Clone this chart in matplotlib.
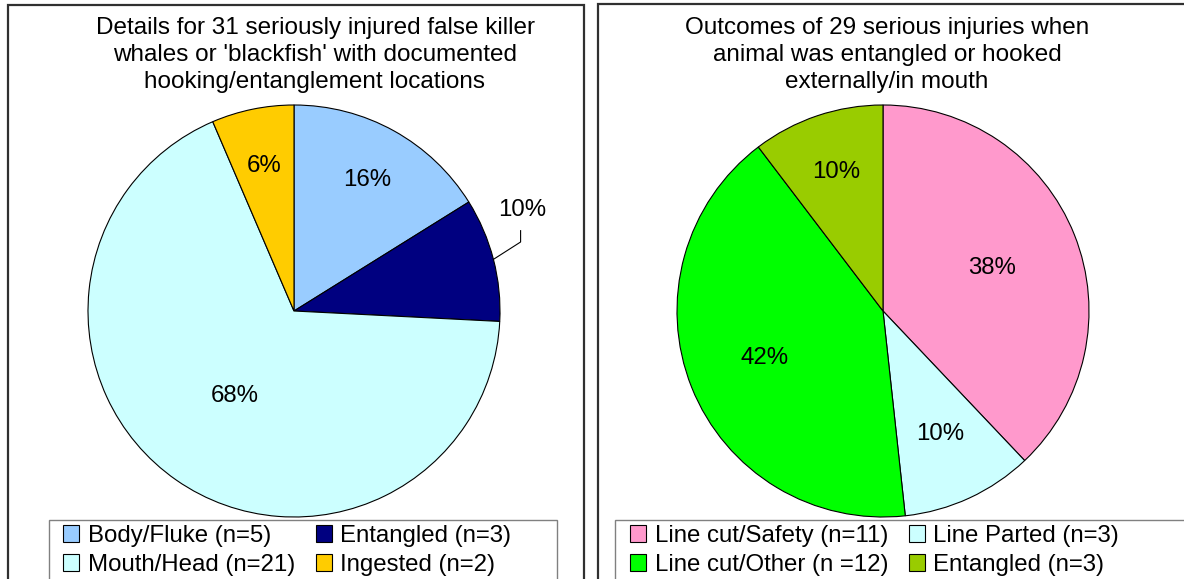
import numpy as np
import matplotlib
matplotlib.use("Agg")
from matplotlib import pyplot as plt
from matplotlib.patches import Rectangle, Patch

plt.rcParams['font.family'] = ['Liberation Sans', 'DejaVu Sans']

# data
left_title = "Details for 31 seriously injured false killer\nwhales or 'blackfish' with documented\nhooking/entanglement locations"
left_labels = ["Body/Fluke (n=5)", "Entangled (n=3)", "Mouth/Head (n=21)", "Ingested (n=2)"]
left_values = [5, 3, 21, 2]
left_colors = ["#99CCFF", "#000080", "#CCFFFF", "#FFCC00"]

right_title = "Outcomes of 29 serious injuries when\nanimal was entangled or hooked\nexternally/in mouth"
right_labels = ["Line cut/Safety (n=11)", "Line Parted (n=3)", "Line cut/Other (n =12)", "Entangled (n=3)"]
right_values = [11, 3, 12, 3]
right_colors = ["#FF99CC", "#CCFFFF", "#00FF00", "#99CC00"]

# label distances from centre (fraction of radius), as Excel placed them
left_dist = [0.73, None, 0.50, 0.72]
right_dist = [0.57, 0.66, 0.62, 0.71]

W, H = 1184, 579
fig = plt.figure(figsize=(W / 100, H / 100), dpi=100)

def px_rect(x0, y0, x1, y1, **kw):
    # pixel box (top-left origin) -> figure rectangle
    r = Rectangle((x0 / W, 1 - y1 / H), (x1 - x0) / W, (y1 - y0) / H,
                  transform=fig.transFigure, fill=False, clip_on=False, **kw)
    fig.patches.append(r)

def percents(values):
    # largest remainder rounding, like Excel's labels (sum to 100)
    raw = np.array(values, float) * 100 / sum(values)
    out = np.floor(raw).astype(int)
    for i in np.argsort(-(raw - out))[:100 - out.sum()]:
        out[i] += 1
    return out

# panel frames
px_rect(8, 5, 584, 600, lw=1.6, edgecolor="#303030")
px_rect(598, 4, 1200, 600, lw=1.6, edgecolor="#303030")

FS = 17.3

def pie_panel(cx, values, colors, dists):
    R = 206
    s = 1.5
    ax = fig.add_axes([(cx - R * s) / W, 1 - (311 + R * s) / H, 2 * R * s / W, 2 * R * s / H])
    wedges, _ = ax.pie(values, colors=colors, startangle=90, counterclock=False,
                       radius=1, wedgeprops=dict(edgecolor="black", linewidth=0.8))
    ax.set_xlim(-s, s)
    ax.set_ylim(-s, s)
    ax.set_aspect("equal")
    ax.axis("off")
    pcts = percents(values)
    for w, p, d in zip(wedges, pcts, dists):
        mid = np.deg2rad((w.theta1 + w.theta2) / 2)
        pct = "%d%%" % p
        if d is None:
            ex, ey = np.cos(mid), np.sin(mid)
            ax.plot([ex, 1.10, 1.10], [ey, 0.335, 0.39], color="black", lw=0.8)
            ax.text(1.11, 0.49, pct, ha="center", va="center", fontsize=FS)
        else:
            ax.text(d * np.cos(mid), d * np.sin(mid), pct, ha="center", va="center", fontsize=FS)
    return ax

pie_panel(294, left_values, left_colors, left_dist)
pie_panel(883, right_values, right_colors, right_dist)

fig.text(315 / W, 1 - 55 / H, left_title, ha="center", va="center", fontsize=17.5, linespacing=1.27)
fig.text(887 / W, 1 - 55 / H, right_title, ha="center", va="center", fontsize=17.5, linespacing=1.27)

# legend boxes
px_rect(49, 520, 557, 600, lw=1, edgecolor="#808080")
px_rect(615, 520, 1200, 600, lw=1, edgecolor="#808080")

def legend(x0, labels, colors):
    order = [0, 2, 1, 3]
    handles = [Patch(facecolor=colors[i], edgecolor="black", lw=0.8, label=labels[i]) for i in order]
    fig.legend(handles=handles, ncol=2, loc="upper left", bbox_to_anchor=(x0 / W, 1 - 525 / H),
               frameon=False, fontsize=FS, handlelength=0.67, handleheight=0.67,
               handletextpad=0.35, columnspacing=0.87, labelspacing=0.29, borderpad=0,
               borderaxespad=0)

legend(63, left_labels, left_colors)
legend(630, right_labels, right_colors)

fig.savefig("out.png", dpi=100)
